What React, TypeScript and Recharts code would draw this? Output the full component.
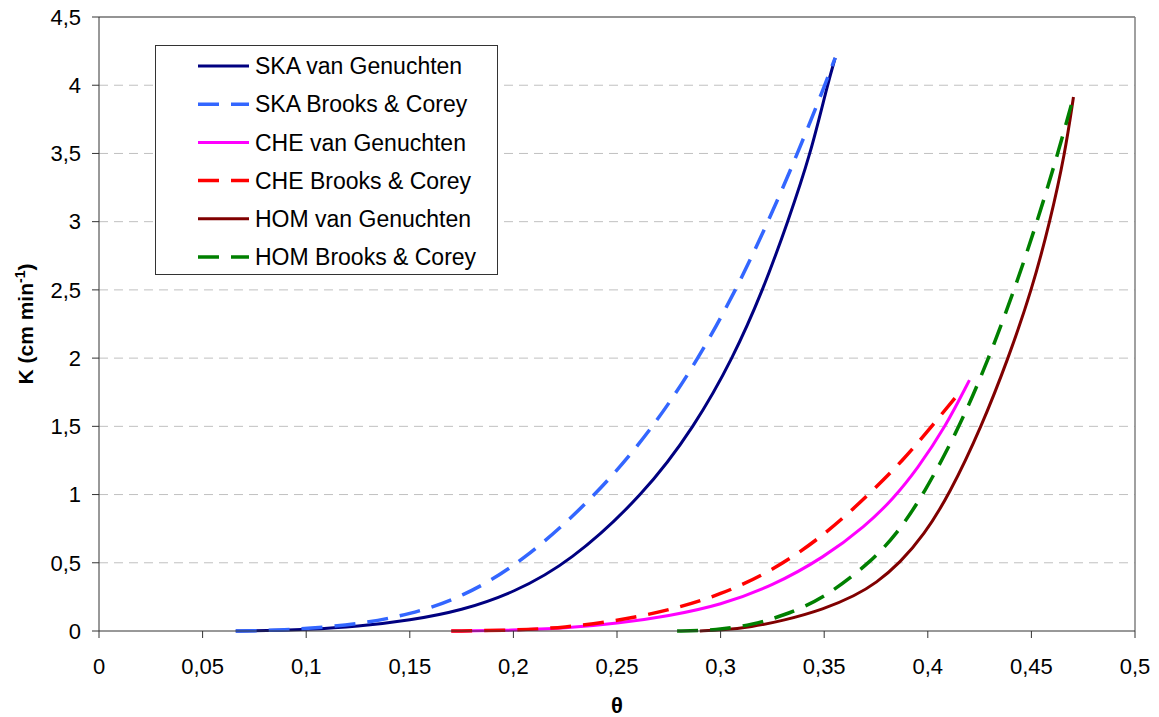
import React from 'react';
import {
  LineChart,
  Line,
  XAxis,
  YAxis,
  CartesianGrid,
  Legend,
  ReferenceLine,
} from 'recharts';

// theta / K pairs
const skaVgTheta = [0.066, 0.08, 0.1, 0.125, 0.15, 0.175, 0.2, 0.227, 0.263, 0.2875, 0.306, 0.3205, 0.3325, 0.3435, 0.3515, 0.3553];
const skaVgK = [0, 0.002, 0.01, 0.033, 0.078, 0.15, 0.28, 0.5, 1.0, 1.5, 2.0, 2.5, 3.0, 3.5, 4.0, 4.2];

const skaBcTheta = [0.066, 0.08, 0.1, 0.125, 0.15, 0.175, 0.2041, 0.2405, 0.268, 0.2895, 0.3075, 0.323, 0.3372, 0.3503, 0.3553];
const skaBcK = [0, 0.003, 0.016, 0.05, 0.12, 0.245, 0.5, 1.0, 1.5, 2.0, 2.5, 3.0, 3.5, 4.0, 4.2];

const cheVgTheta = [0.17, 0.2, 0.225, 0.25, 0.275, 0.3, 0.325, 0.35, 0.37, 0.3834, 0.395, 0.4083, 0.4201];
const cheVgK = [0, 0.005, 0.02, 0.055, 0.11, 0.19, 0.33, 0.54, 0.77, 0.97, 1.19, 1.49, 1.839];

const cheBcTheta = [0.17, 0.2, 0.225, 0.25, 0.275, 0.3, 0.325, 0.35, 0.3715, 0.388, 0.4019, 0.416];
const cheBcK = [0, 0.005, 0.025, 0.075, 0.15, 0.265, 0.44, 0.7, 1.0, 1.25, 1.5, 1.761];

const homVgTheta = [0.29, 0.3, 0.315, 0.33, 0.35, 0.365, 0.375, 0.3866, 0.398, 0.4104, 0.426, 0.4389, 0.4502, 0.459, 0.4662, 0.4703];
const homVgK = [0, 0.006, 0.03, 0.075, 0.16, 0.26, 0.35, 0.5, 0.7, 1.0, 1.5, 2.0, 2.5, 3.0, 3.5, 3.913];

const homBcTheta = [0.279, 0.29, 0.3, 0.315, 0.33, 0.35, 0.3721, 0.385, 0.398, 0.4155, 0.4295, 0.4418, 0.4528, 0.4628, 0.4703];
const homBcK = [0, 0.002, 0.012, 0.045, 0.11, 0.24, 0.5, 0.71, 1.0, 1.5, 2.0, 2.5, 3.0, 3.5, 3.913];

const xTicks = [0, 0.05, 0.1, 0.15, 0.2, 0.25, 0.3, 0.35, 0.4, 0.45, 0.5];
const yTicks = [0, 0.5, 1, 1.5, 2, 2.5, 3, 3.5, 4, 4.5];

const toPoints = (theta: number[], k: number[]) =>
  theta.map((t, i) => ({ theta: t, k: k[i] }));

const series = [
  { name: 'SKA van Genuchten', data: toPoints(skaVgTheta, skaVgK), color: '#000080', dash: undefined },
  { name: 'SKA Brooks & Corey', data: toPoints(skaBcTheta, skaBcK), color: '#3366FF', dash: '21 12' },
  { name: 'CHE van Genuchten', data: toPoints(cheVgTheta, cheVgK), color: '#FF00FF', dash: undefined },
  { name: 'CHE Brooks & Corey', data: toPoints(cheBcTheta, cheBcK), color: '#FF0000', dash: '21 12' },
  { name: 'HOM van Genuchten', data: toPoints(homVgTheta, homVgK), color: '#800000', dash: undefined },
  { name: 'HOM Brooks & Corey', data: toPoints(homBcTheta, homBcK), color: '#008000', dash: '21 12' },
];

const fmt = (v: number) => String(v).replace('.', ',');

function LegendBox() {
  return (
    <div
      style={{
        width: 341,
        height: 228,
        border: '1px solid #333',
        background: '#fff',
        boxSizing: 'content-box',
      }}
    >
      <svg width={341} height={228}>
        {series.map((s, i) => {
          const y = 20 + i * 38.2;
          return (
            <g key={s.name}>
              <line
                x1={42}
                x2={93}
                y1={y}
                y2={y}
                stroke={s.color}
                strokeWidth={s.dash ? 3.5 : 3}
                strokeDasharray={s.dash ? '21 12' : undefined}
              />
              <text x={99} y={y} dy="0.36em" fontSize={23} fill="#000">
                {s.name}
              </text>
            </g>
          );
        })}
      </svg>
    </div>
  );
}

export default function App() {
  return (
    <div
      style={{
        position: 'absolute',
        left: 0,
        top: 0,
        width: 1159,
        height: 717,
        background: '#fff',
        fontFamily: '"Liberation Sans", Arial, sans-serif',
      }}
    >
      <LineChart
        width={1159}
        height={717}
        margin={{ top: 17, right: 24, bottom: 0, left: 0 }}
      >
        <CartesianGrid
          vertical={false}
          stroke="#c0c0c0"
          strokeDasharray="9 6"
          horizontalValues={[0.5, 1, 1.5, 2, 2.5, 3, 3.5, 4]}
        />
        <XAxis
          type="number"
          dataKey="theta"
          domain={[0, 0.5]}
          ticks={xTicks}
          tickFormatter={fmt}
          height={86}
          tickSize={7}
          tickMargin={20}
          stroke="#333"
          tick={{ fill: '#000', fontSize: 22 }}
          allowDuplicatedCategory={false}
          label={{
            content: () => (
              <text x={617} y={713} textAnchor="middle" fontSize={22} fontWeight="bold" fill="#000">
                θ
              </text>
            ),
          }}
        />
        <YAxis
          type="number"
          domain={[0, 4.5]}
          ticks={yTicks}
          tickFormatter={fmt}
          width={99}
          tickSize={7}
          tickMargin={11}
          stroke="#333"
          tick={{ fill: '#000', fontSize: 22 }}
          label={{
            content: () => (
              <text
                transform="translate(33 324) rotate(-90)"
                textAnchor="middle"
                fontSize={21}
                fontWeight="bold"
                fill="#000"
              >
                K (cm min
                <tspan dy={-8} fontSize={14}>-1</tspan>
                <tspan dy={8}>)</tspan>
              </text>
            ),
          }}
        />
        <ReferenceLine y={4.5} stroke="#707070" strokeWidth={1.5} />
        <ReferenceLine x={0.5} stroke="#808080" strokeWidth={1.5} />
        {series.map((s) => (
          <Line
            key={s.name}
            data={s.data}
            dataKey="k"
            name={s.name}
            type="basis"
            stroke={s.color}
            strokeWidth={s.dash ? 3.5 : 3}
            strokeDasharray={s.dash}
            dot={false}
            activeDot={false}
            isAnimationActive={false}
          />
        ))}
        <Legend
          layout="vertical"
          align="center"
          verticalAlign="middle"
          content={() => <LegendBox />}
          wrapperStyle={{ position: 'absolute', left: 155, top: 45, width: 343, height: 230 }}
        />
      </LineChart>
    </div>
  );
}
